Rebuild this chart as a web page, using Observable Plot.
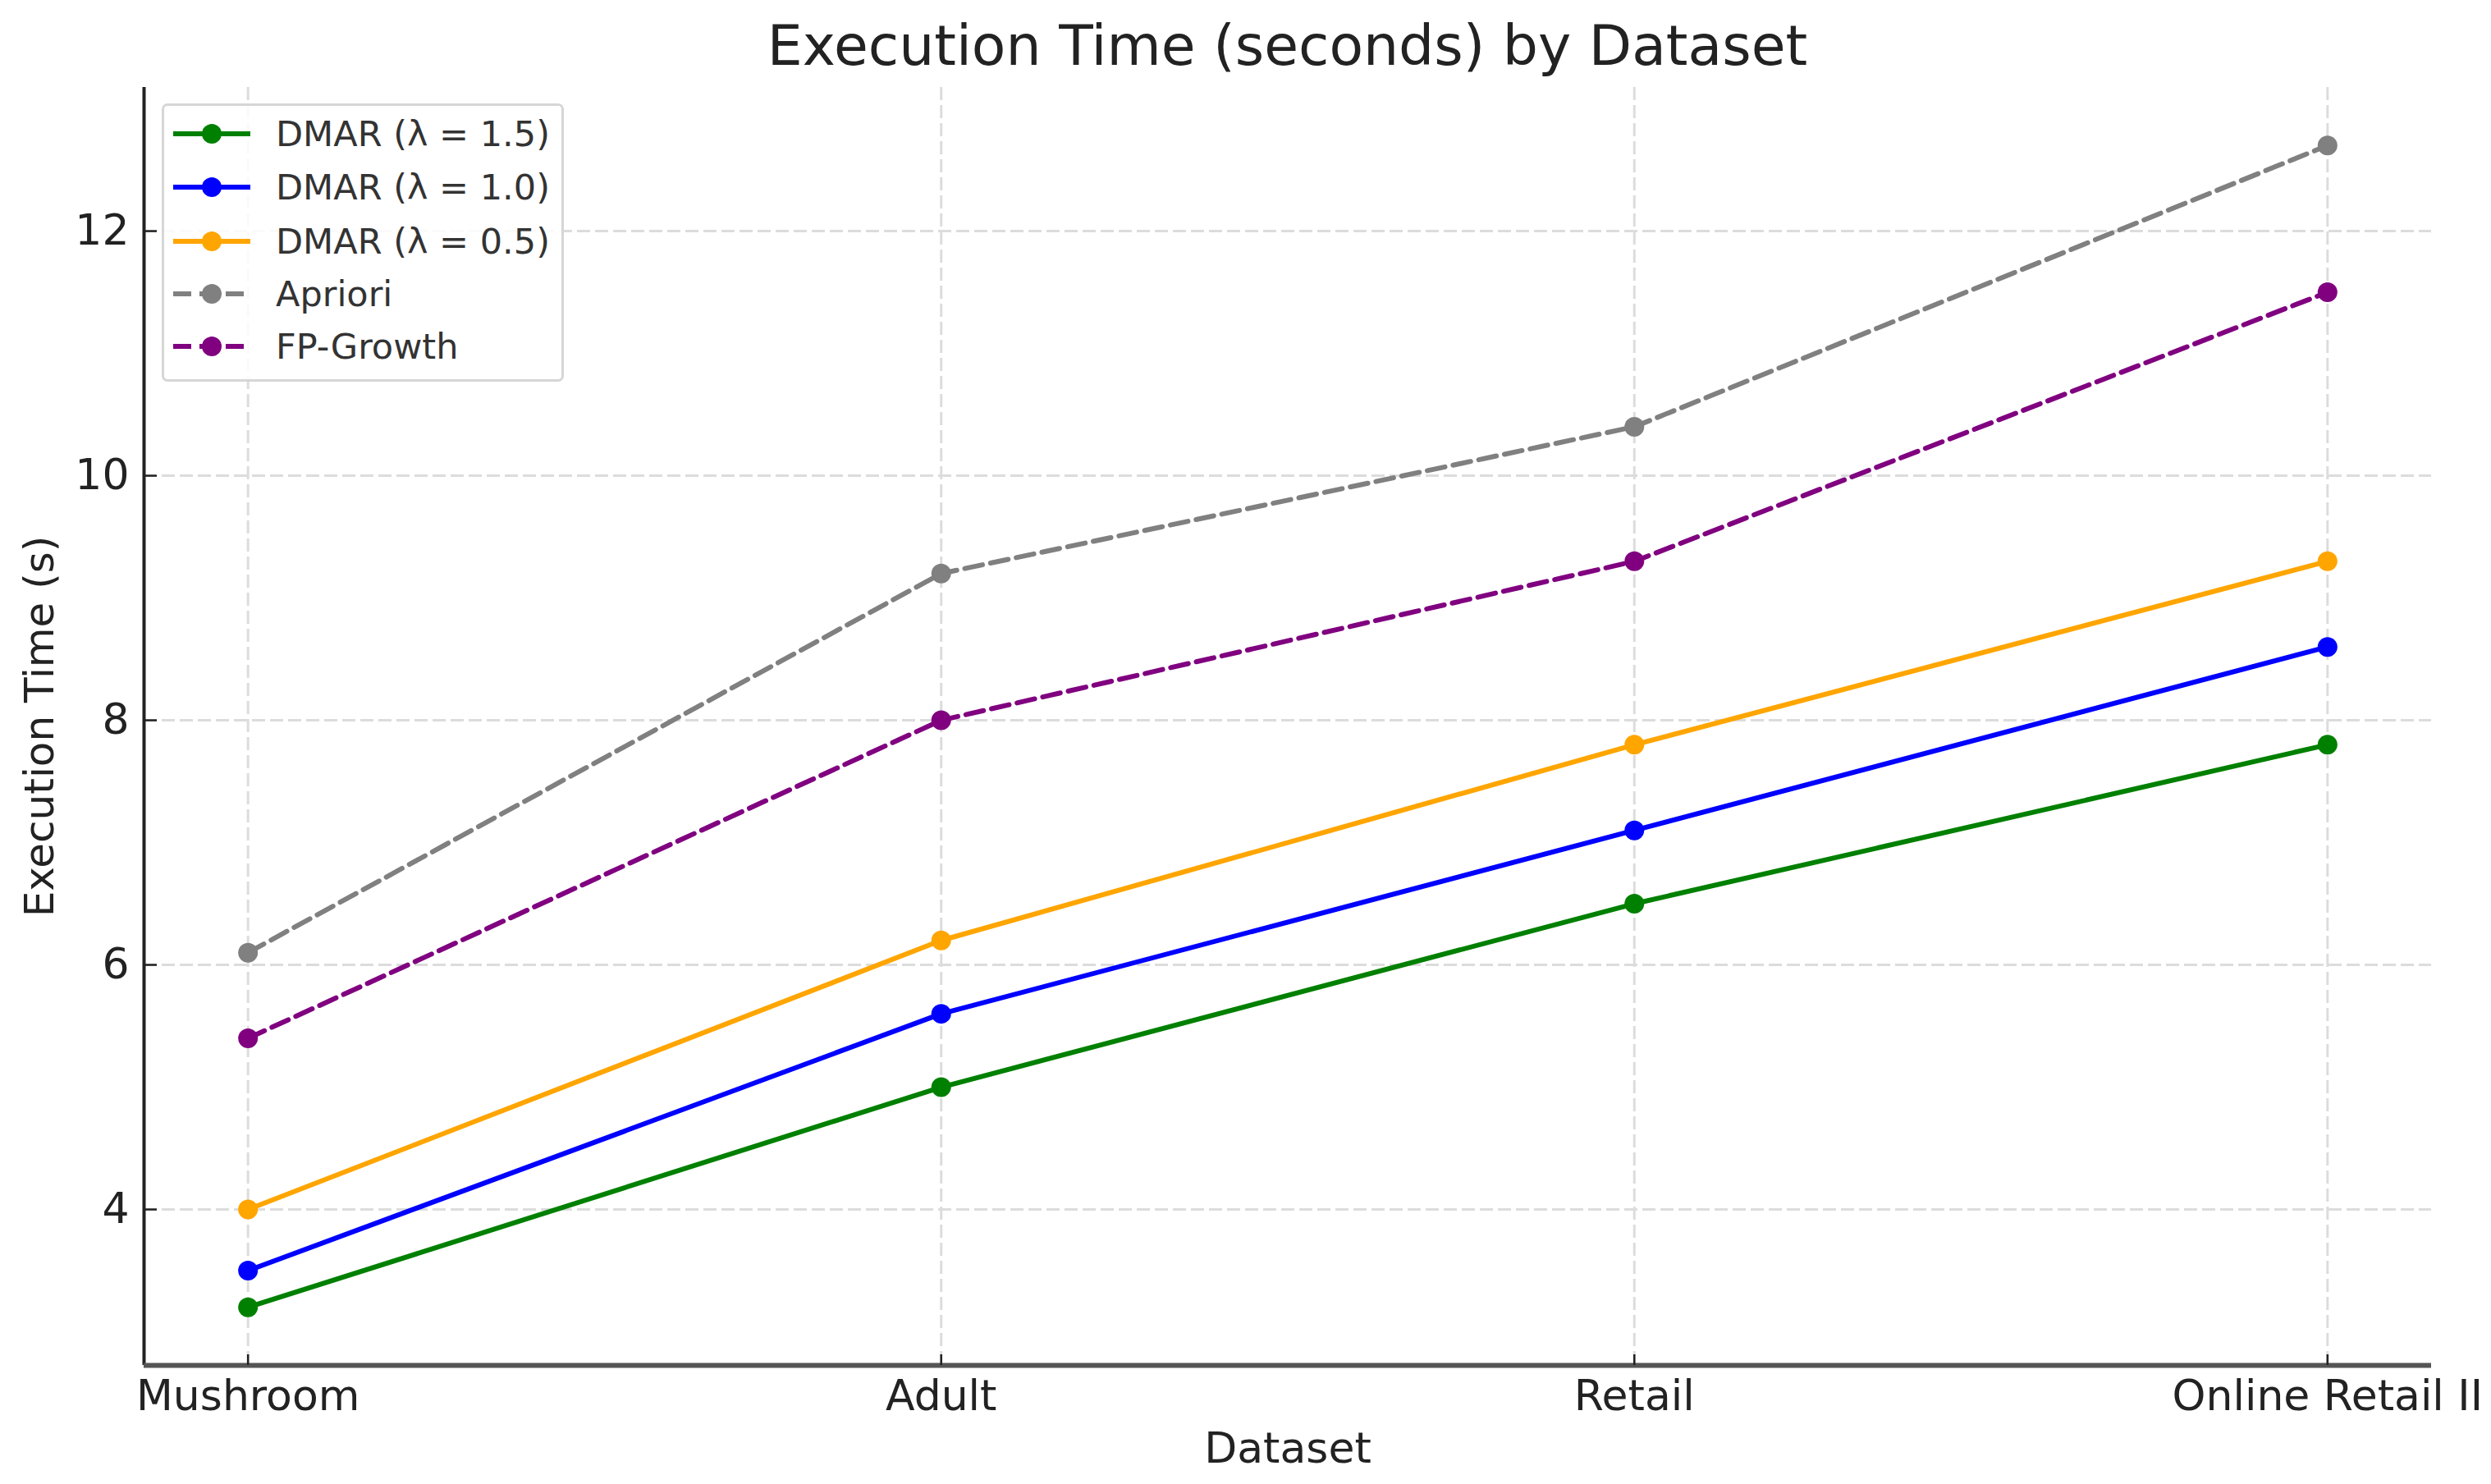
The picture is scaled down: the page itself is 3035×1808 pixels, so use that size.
<!DOCTYPE html>
<html>
<head>
<meta charset="utf-8">
<script src="https://cdn.jsdelivr.net/npm/d3@7"></script>
<script src="https://cdn.jsdelivr.net/npm/@observablehq/plot@0.6"></script>
<style>
html, body { margin: 0; padding: 0; background: #fff; }
#wrap { position: relative; width: 3035px; height: 1808px; font-family: "DejaVu Sans", sans-serif; overflow: hidden; }
#title { position: absolute; left: 175px; width: 2787px; top: 6px; line-height: 100px; text-align: center; font-size: 68px; color: #222; white-space: nowrap; }
#chart { position: absolute; left: 0; top: 0; }
#legend { position: absolute; left: 197px; top: 126px; width: 490px; height: 339px; border: 3px solid #d6d6d6; border-radius: 7px; background: rgba(255,255,255,0.85); box-sizing: border-box; }
.row { position: absolute; left: 0; height: 60px; }
.row svg { position: absolute; left: 11px; top: 0; }
.row span { position: absolute; left: 136px; font-size: 43px; color: #333; white-space: nowrap; line-height: 60px; top: 0; }
</style>
</head>
<body>
<div id="wrap">
  <div id="chart"></div>
  <div id="title">Execution Time (seconds) by Dataset</div>
  <div id="legend"></div>
</div>
<script>
// ---- data ----
const categories = ["Mushroom", "Adult", "Retail", "Online Retail II"];
const seriesNames = ["DMAR (λ = 1.5)", "DMAR (λ = 1.0)", "DMAR (λ = 0.5)", "Apriori", "FP-Growth"];
const dmar15 = [3.2, 5.0, 6.5, 7.8];
const dmar10 = [3.5, 5.6, 7.1, 8.6];
const dmar05 = [4.0, 6.2, 7.8, 9.3];
const apriori = [6.1, 9.2, 10.4, 12.7];
const fpgrowth = [5.4, 8.0, 9.3, 11.5];
const yTicks = [4, 6, 8, 10, 12];
const seriesColors = ["#008000", "#0000ff", "#ffa500", "#808080", "#800080"];
const seriesDashed = [false, false, false, true, true];

const seriesValues = [dmar15, dmar10, dmar05, apriori, fpgrowth];
const rows = [];
seriesValues.forEach((vals, s) => {
  vals.forEach((v, i) => rows.push({series: seriesNames[s], i, value: v, dashed: seriesDashed[s]}));
});

// matplotlib-like 5% margins
const xIdx = categories.map((_, i) => i);
const xPad = 0.05 * (xIdx.length - 1);
const xDomain = [-xPad, xIdx.length - 1 + xPad];
const allV = seriesValues.flat();
const yMin = d3.min(allV), yMax = d3.max(allV);
const yPad = 0.05 * (yMax - yMin);
const yDomain = [yMin - yPad, yMax + yPad];

const LW = 6;
const DASH = "22,10";

const plot = Plot.plot({
  width: 3035,
  height: 1808,
  marginTop: 106,
  marginBottom: 145,
  marginLeft: 175,
  marginRight: 73,
  style: {fontFamily: "DejaVu Sans, sans-serif", fontSize: "52px", color: "#222", background: "transparent", overflow: "visible"},
  x: {domain: xDomain},
  y: {domain: yDomain},
  color: {domain: seriesNames, range: seriesColors},
  marks: [
    Plot.ruleY(yTicks, {stroke: "#dcdcdc", strokeWidth: 3, strokeDasharray: "16,6"}),
    Plot.ruleX(xIdx, {stroke: "#dcdcdc", strokeWidth: 3, strokeDasharray: "16,6"}),
    Plot.line(rows.filter(d => !d.dashed), {x: "i", y: "value", z: "series", stroke: "series", strokeWidth: LW}),
    Plot.line(rows.filter(d => d.dashed), {x: "i", y: "value", z: "series", stroke: "series", strokeWidth: LW, strokeDasharray: DASH}),
    Plot.dot(rows, {x: "i", y: "value", fill: "series", r: 12}),
    Plot.ruleX([xDomain[0]], {stroke: "#222", strokeWidth: 4}),
    Plot.ruleY([yDomain[0]], {stroke: "#555", strokeWidth: 6}),
    Plot.axisX(xIdx, {tickFormat: i => categories[i], tickSize: -13, tickPadding: 31, fontSize: 52, strokeWidth: 2.5, color: "#222", label: null}),
    Plot.axisY(yTicks, {tickFormat: d => String(d), tickSize: -16, tickPadding: 34, fontSize: 52, strokeWidth: 2.5, color: "#222", label: null}),
    Plot.text(["Dataset"], {text: d => d, frameAnchor: "bottom", dy: 118, fontSize: 52, fill: "#222"}),
    Plot.text(["Execution Time (s)"], {text: d => d, frameAnchor: "left", textAnchor: "middle", rotate: -90, dx: -127, fontSize: 50, fill: "#222"})
  ]
});
document.getElementById("chart").appendChild(plot);

// ---- legend ----
const legend = document.getElementById("legend");
const rowCenters = [163, 228, 294, 358, 422];
seriesNames.forEach((name, s) => {
  const row = document.createElement("div");
  row.className = "row";
  row.style.top = (rowCenters[s] - 126 - 30 - 3) + "px";
  const svgNS = "http://www.w3.org/2000/svg";
  const svg = document.createElementNS(svgNS, "svg");
  svg.setAttribute("width", "110");
  svg.setAttribute("height", "60");
  const line = document.createElementNS(svgNS, "line");
  line.setAttribute("x1", "0"); line.setAttribute("x2", "94");
  line.setAttribute("y1", "30"); line.setAttribute("y2", "30");
  line.setAttribute("stroke", seriesColors[s]);
  line.setAttribute("stroke-width", LW);
  if (seriesDashed[s]) line.setAttribute("stroke-dasharray", DASH);
  const c = document.createElementNS(svgNS, "circle");
  c.setAttribute("cx", "47"); c.setAttribute("cy", "30"); c.setAttribute("r", "12");
  c.setAttribute("fill", seriesColors[s]);
  svg.appendChild(line); svg.appendChild(c);
  const span = document.createElement("span");
  span.textContent = name;
  row.appendChild(svg); row.appendChild(span);
  legend.appendChild(row);
});
</script>
</body>
</html>
